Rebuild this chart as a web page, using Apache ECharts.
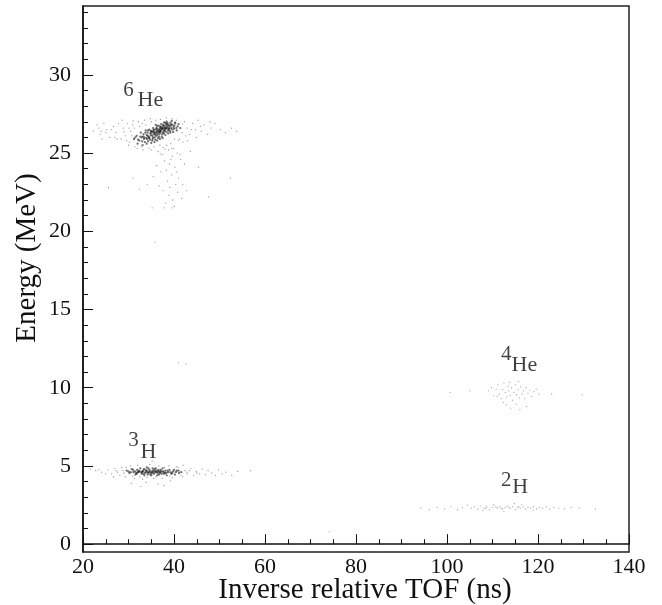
<!DOCTYPE html>
<html>
<head>
<meta charset="utf-8">
<script src="https://cdn.jsdelivr.net/npm/echarts@6/dist/echarts.min.js"></script>
<style>
  html, body { margin: 0; padding: 0; background: #fff; }
  #main { width: 662px; height: 605px; }
</style>
</head>
<body>
<div id="main"></div>
<script>
// [inverse relative TOF (ns), energy (MeV)]
const he6Core = [
  [31.2,25.9],[31.8,26.1],[32.4,25.8],[32.9,26.0],[33.3,26.2],[33.6,25.7],[33.9,25.95],[34.2,26.3],[34.4,26.05],[34.7,25.85],
  [34.9,26.15],[35.1,26.4],[35.3,25.9],[35.5,26.2],[35.6,26.5],[35.8,26.0],[35.9,26.3],[36.1,26.6],[36.2,26.1],[36.4,26.35],
  [36.5,25.95],[36.7,26.5],[36.8,26.2],[37.0,26.7],[37.1,26.4],[37.3,26.05],[37.4,26.55],[37.6,26.3],[37.7,26.75],[37.9,26.45],
  [38.0,26.6],[38.2,26.85],[38.3,26.35],[38.5,26.6],[38.6,26.9],[38.8,26.5],[39.0,26.7],[39.2,26.95],[39.4,26.6],[39.7,26.8],
  [40.0,26.55],[40.3,26.9],[40.8,26.7],[32.0,25.6],[32.7,26.3],[33.1,25.5],[33.8,26.45],[34.0,25.6],[34.6,26.5],[35.0,25.65],
  [35.4,26.6],[35.7,25.7],[36.0,26.8],[36.3,25.8],[36.6,26.75],[36.9,25.9],[37.2,26.85],[37.5,25.95],[37.8,26.95],[38.1,26.15],
  [38.4,27.0],[38.7,26.25],[39.1,26.4],[39.5,27.05],[39.8,26.35],[40.2,26.95],[40.6,26.45],[41.0,26.85],[41.4,26.6],
  [36.4,26.2],[36.8,26.4],[37.2,26.5],[37.6,26.55],[38.0,26.7],[38.3,26.6],[37.0,26.3],[36.2,26.4],[35.7,26.25],[35.2,26.1],
  [34.6,26.0],[34.1,25.9],[37.5,26.65],[38.6,26.7],[38.9,26.8],[37.9,26.6],[36.6,26.3],[35.9,26.15],[37.3,26.6],[38.2,26.55],
  [33.5,26.0],[34.8,26.25],[36.3,26.55],[37.7,26.4],[39.3,26.75],[38.1,26.95],[35.3,26.35],[36.9,26.6],[34.3,25.75],[39.9,26.65],
  [31.5,26.0],[32.1,25.85],[32.6,26.05],[33.0,25.75],[33.4,25.9],[33.7,26.3],[34.0,26.15],[34.3,26.45],[34.5,25.95],[34.9,26.4],
  [35.2,25.8],[35.4,26.0],[35.6,26.35],[35.9,25.85],[36.1,26.25],[36.5,26.45],[36.7,26.05],[36.9,26.35],[37.1,26.65],[37.4,26.2],
  [37.8,26.25],[38.0,26.45],[38.4,26.75],[38.7,26.45],[39.0,26.55],[39.2,26.3],[39.6,26.5],[40.1,26.75],[40.5,26.6],[35.5,26.45],
  [36.0,26.5],[37.0,26.5],[37.6,26.8],[38.5,26.85],[36.3,26.7],[35.0,26.3],[34.2,26.1],[33.2,26.05],[39.4,26.85],[38.9,26.6]
];
const he6Halo = [
  [22.3,26.4],[23.1,26.8],[23.8,26.2],[24.6,26.9],[25.2,26.5],[25.9,26.0],[26.7,26.7],[27.3,26.3],[27.8,26.9],[28.4,25.9],
  [28.9,26.6],[29.3,26.1],[29.8,26.9],[30.2,25.7],[30.5,26.4],[30.9,26.8],[31.4,25.4],[32.2,27.0],[33.5,27.1],[34.8,27.2],
  [36.0,27.1],[39.6,27.2],[40.5,27.1],[41.8,26.3],[42.3,27.0],[42.9,26.6],[43.4,26.2],[44.1,26.9],[44.7,26.5],[45.3,27.1],
  [46.0,26.4],[46.6,26.8],[47.4,26.2],[48.1,26.6],[49.0,26.9],[50.2,26.5],[51.3,26.3],[52.6,26.6],[53.8,26.4],[41.2,25.9],
  [42.0,25.7],[43.0,25.8],[40.1,25.9],[39.3,25.6],[38.4,25.5],[36.9,25.5],[35.6,25.4],[34.5,25.3],[33.2,25.2],[31.9,25.3],
  [30.0,25.5],[27.5,25.9],[25.0,26.3],[23.5,26.6],[24.2,25.9],[44.9,26.0],[47.9,27.0],[33.0,26.9],[31.0,27.05],[28.6,27.1],
  [29.0,26.35],[29.6,25.8],[30.1,26.6],[30.7,26.1],[31.3,26.6],[32.5,26.7],[33.8,26.8],[35.0,27.0],[37.0,27.15],[38.3,27.25],
  [40.9,25.8],[41.9,26.85],[42.6,26.1],[43.8,26.5],[45.8,26.7],[39.5,25.3],[37.6,25.35],[35.0,25.2],[32.8,25.4],[26.2,26.5],
  [24.0,26.4],[27.0,26.0],
  [36.5,25.1],[37.4,24.9],[38.8,25.2],[39.6,24.8],[40.7,25.0],[41.5,24.6],[37.9,24.5],[39.0,24.3],[40.2,24.1],[38.3,23.9],
  [39.5,23.6],[37.1,23.8],[41.0,23.4],[38.6,23.2],[40.4,23.0],[39.1,22.8],[37.6,22.6],[38.9,22.3],[40.8,22.5],[39.7,22.0],
  [38.2,21.8],[40.1,21.6],[42.3,24.3],[41.9,23.0],[36.2,24.2],[35.4,23.5],[34.1,23.0],[42.8,22.6],[43.6,25.1],[39.9,25.3],
  [41.3,24.9],[38.0,25.25],[37.0,24.95],[39.3,24.6],[40.6,23.8],[41.7,22.1],[37.8,21.5],[36.7,22.9],[32.4,22.7],[45.4,24.1],
  [52.4,23.4],[31.0,23.4],[25.6,22.8],[47.6,22.2],[35.2,21.5],[39.6,21.5]
];
const h3Core = [
  [29.6,4.7],[30.2,4.55],[30.7,4.8],[31.1,4.6],[31.5,4.45],[31.9,4.75],[32.2,4.6],[32.6,4.85],[32.9,4.5],[33.2,4.7],
  [33.5,4.4],[33.8,4.65],[34.0,4.9],[34.3,4.55],[34.6,4.75],[34.8,4.45],[35.1,4.65],[35.3,4.85],[35.6,4.5],[35.8,4.7],
  [36.1,4.6],[36.3,4.4],[36.6,4.75],[36.9,4.55],[37.2,4.65],[37.5,4.85],[37.8,4.5],[38.1,4.7],[38.4,4.4],[38.7,4.6],
  [39.0,4.75],[39.4,4.5],[39.8,4.65],[40.2,4.45],[40.6,4.7],[41.1,4.55],[41.6,4.6],[33.0,4.6],[33.6,4.55],[34.1,4.7],
  [34.5,4.6],[34.9,4.55],[35.4,4.7],[35.9,4.6],[36.4,4.55],[36.8,4.65],[37.3,4.5],[37.7,4.6],[32.4,4.65],[31.7,4.55],
  [38.3,4.55],[35.0,4.4],[34.4,4.85],[36.0,4.85],[33.4,4.8],
  [30.0,4.65],[30.5,4.6],[31.0,4.75],[31.4,4.65],[31.8,4.5],[32.3,4.7],[32.8,4.6],[33.3,4.5],[33.7,4.75],[34.2,4.45],
  [34.7,4.65],[35.2,4.55],[35.7,4.8],[36.2,4.7],[36.7,4.45],[37.1,4.75],[37.6,4.65],[38.0,4.55],[38.6,4.7],[39.2,4.6],
  [39.6,4.55],[40.0,4.75],[40.4,4.6],[41.0,4.7],[35.5,4.6],[34.0,4.6],[36.5,4.65],[33.1,4.65],[37.0,4.6],[32.0,4.6]
];
const h3Halo = [
  [21.6,4.8],[22.8,4.7],[24.1,4.6],[25.5,4.75],[26.3,4.5],[27.0,4.85],[27.6,4.6],[28.1,4.4],[28.5,4.9],[29.0,4.55],
  [29.3,4.3],[30.4,5.0],[31.3,4.2],[32.0,5.05],[33.1,4.15],[34.7,5.1],[35.5,4.2],[36.7,5.0],[37.4,4.2],[38.9,5.0],
  [39.6,4.25],[40.9,4.9],[41.9,4.3],[42.4,4.7],[43.0,4.5],[43.7,4.85],[44.3,4.4],[44.9,4.65],[45.6,4.5],[46.2,4.8],
  [46.9,4.45],[47.5,4.7],[48.3,4.55],[49.1,4.4],[49.8,4.75],[50.6,4.5],[51.4,4.6],[52.7,4.4],[54.0,4.65],[56.8,4.7],
  [33.9,3.95],[36.5,3.85],[39.2,4.05],[30.6,3.9],[35.2,5.3],[42.0,5.05],[26.7,4.3],[32.7,3.7],[37.8,3.75],
  [28.8,4.7],[29.5,4.9],[30.9,4.35],[32.5,4.3],[34.1,4.25],[36.0,4.3],[37.9,4.9],[39.1,4.35],[40.5,4.95],[41.5,4.4],
  [42.8,4.6],[43.4,4.7],[45.0,4.55],[23.5,4.75],[25.0,4.5],[27.3,4.7]
];
const he4Points = [
  [109.1,9.8],[109.8,10.0],[110.3,9.5],[110.8,9.9],[111.2,10.2],[111.5,9.6],[111.9,9.3],[112.2,9.9],[112.5,10.3],[112.8,9.7],
  [113.1,9.4],[113.4,10.1],[113.6,9.8],[113.9,9.5],[114.2,10.0],[114.4,9.2],[114.7,9.7],[115.0,10.2],[115.3,9.55],[115.6,9.9],
  [115.9,9.35],[116.2,10.05],[116.5,9.6],[116.8,9.8],[117.1,9.3],[117.4,10.0],[117.8,9.65],[118.2,9.85],[118.6,9.45],[119.1,9.75],
  [119.6,9.9],[120.2,9.6],[113.0,8.9],[114.0,8.7],[115.2,8.95],[112.4,9.05],[116.0,8.6],[113.7,10.35],[115.7,10.4],[111.0,9.45],
  [100.7,9.7],[105.0,9.8],[123.0,9.6],[129.7,9.55],[117.5,8.8]
];
const h2Points = [
  [94.2,2.3],[96.1,2.2],[97.8,2.35],[99.5,2.25],[100.9,2.4],[102.3,2.2],[103.4,2.35],[104.5,2.5],[105.3,2.3],[106.0,2.4],
  [106.8,2.25],[107.4,2.45],[108.1,2.3],[108.7,2.4],[109.3,2.2],[109.9,2.35],[110.5,2.45],[111.1,2.3],[111.6,2.4],[112.2,2.25],
  [112.8,2.35],[113.3,2.45],[113.9,2.3],[114.4,2.4],[115.0,2.2],[115.5,2.35],[116.1,2.3],[116.7,2.4],[117.2,2.25],[117.8,2.35],
  [118.4,2.3],[119.0,2.4],[119.7,2.25],[120.3,2.35],[121.0,2.3],[121.8,2.4],[122.6,2.25],[123.5,2.35],[124.6,2.3],[125.8,2.25],
  [127.3,2.35],[129.1,2.3],[132.6,2.25],[110.2,2.55],[114.8,2.6],[107.9,2.15],[118.9,2.15],[112.5,2.1],[116.4,2.55],[111.9,2.3],
  [113.6,2.35],[115.8,2.4],[110.8,2.35],[108.5,2.3]
];
const strayPoints = [[41.0,11.6],[42.6,11.5],[35.8,19.3],[74.1,0.8]];

// particle labels: mass number and symbol, at data positions
const massLabels = [['6',30.0,29.0],['4',113.0,12.1],['3',31.1,6.6],['2',113.0,4.1]];
const symbolLabels = [['He',34.8,28.4],['He',117.0,11.45],['H',34.4,5.9],['H',116.1,3.65]];

const yLabelValues = [0, 5, 10, 15, 20, 25, 30];
const yMinorValues = [];
for (let v = 0; v <= 34; v++) yMinorValues.push(v);

const serif = 'Liberation Serif';
const chart = echarts.init(document.getElementById('main'));

const dots = (data, size, color) => ({
  type: 'scatter',
  data,
  symbol: 'circle',
  symbolSize: size,
  itemStyle: { color },
  silent: true
});
const labels = (rows, size) => ({
  type: 'scatter',
  data: rows.map(r => ({ name: r[0], value: [r[1], r[2]] })),
  symbolSize: 0,
  silent: true,
  label: {
    show: true,
    position: 'inside',
    formatter: p => p.name,
    fontFamily: serif,
    fontSize: size,
    color: '#111'
  }
});

chart.setOption({
  animation: false,
  textStyle: { fontFamily: serif },
  grid: {
    left: 83, right: 33, top: 6, bottom: 53,
    outerBoundsMode: 'none',
    show: true, borderColor: '#222', borderWidth: 1.5
  },
  xAxis: {
    type: 'value', min: 20, max: 140, interval: 20,
    name: 'Inverse relative TOF (ns)',
    nameLocation: 'middle', nameGap: 24, nameMoveOverlap: false,
    nameTextStyle: {
      fontFamily: serif, fontSize: 29, color: '#111',
      verticalAlign: 'top', padding: [0, 0, 0, 18]
    },
    axisLine: { lineStyle: { color: '#111', width: 1.5 } },
    axisTick: { inside: true, length: 10, lineStyle: { color: '#111' } },
    minorTick: { show: true, splitNumber: 4, length: 5, lineStyle: { color: '#111' } },
    axisLabel: { fontFamily: serif, fontSize: 22, color: '#111', margin: 4 },
    splitLine: { show: false }
  },
  yAxis: [{
    type: 'value', min: -0.5, max: 34.4,
    name: 'Energy (MeV)',
    nameLocation: 'middle', nameGap: 41, nameMoveOverlap: false,
    nameTextStyle: { fontFamily: serif, fontSize: 29, color: '#111', padding: [0, 0, 0, 42] },
    axisLine: { lineStyle: { color: '#111', width: 1.5 } },
    axisTick: { inside: true, length: 10, customValues: yLabelValues, lineStyle: { color: '#111' } },
    axisLabel: { fontFamily: serif, fontSize: 22, color: '#111', margin: 12, customValues: yLabelValues },
    splitLine: { show: false }
  }, {
    type: 'value', min: -0.5, max: 34.4, position: 'left',
    axisLine: { show: false },
    axisTick: { inside: true, length: 5, customValues: yMinorValues, lineStyle: { color: '#111' } },
    axisLabel: { show: false },
    splitLine: { show: false }
  }],
  series: [
    dots(he6Halo, 1.3, 'rgba(70,70,70,0.7)'),
    dots(he6Core, 2.3, 'rgba(20,20,20,0.75)'),
    dots(h3Halo, 1.3, 'rgba(70,70,70,0.7)'),
    dots(h3Core, 2.3, 'rgba(20,20,20,0.75)'),
    dots(he4Points, 1.3, 'rgba(80,80,80,0.6)'),
    dots(h2Points, 1.3, 'rgba(80,80,80,0.6)'),
    dots(strayPoints, 1.3, 'rgba(90,90,90,0.6)'),
    labels(massLabels, 21),
    labels(symbolLabels, 22)
  ]
});
</script>
</body>
</html>
